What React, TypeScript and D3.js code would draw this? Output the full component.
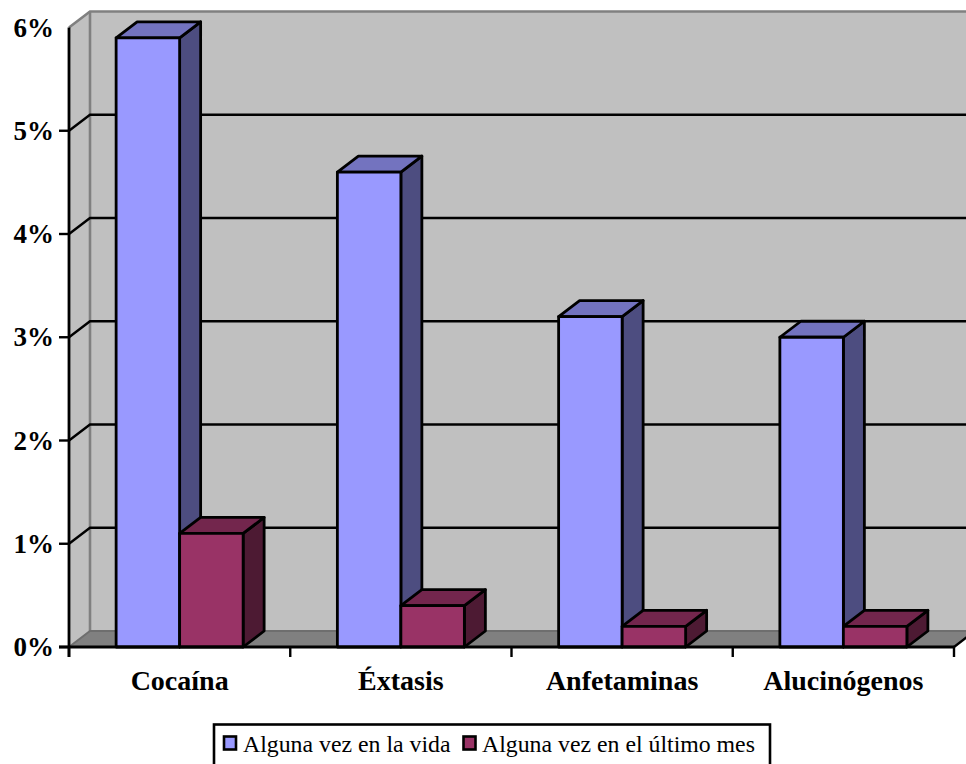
import React from "react";
import * as d3 from "d3";

const categories = ["Cocaína", "Éxtasis", "Anfetaminas", "Alucinógenos"];
const seriesNames = ["Alguna vez en la vida", "Alguna vez en el último mes"];
const lifetimeValues = [5.9, 4.6, 3.2, 3.0];
const lastMonthValues = [1.1, 0.4, 0.2, 0.2];
const yTicks = [0, 1, 2, 3, 4, 5, 6];

const frontColors = ["#9999FF", "#993366"];
const topColors = ["#7373BF", "#73264D"];
const sideColors = ["#4D4D80", "#4D1A33"];

const WIDTH = 966;
const HEIGHT = 764;
const DX = 21;
const DY = -16;
const SERIF = "'Liberation Serif', serif";

const y = d3.scaleLinear().domain([0, 6]).range([647, 27.5]);
const x = d3.scaleBand<string>().domain(categories).range([69, 954]);
const inner = d3
  .scaleBand<number>()
  .domain([0, 1])
  .range([0, x.bandwidth()])
  .paddingOuter(0.742)
  .paddingInner(0);

const poly = (pts: [number, number][]) => pts.map((p) => p.join(",")).join(" ");

function Bar({ cat, series, value }: { cat: string; series: number; value: number }) {
  const x0 = (x(cat) as number) + (inner(series) as number);
  const x1 = x0 + inner.bandwidth();
  const yTop = y(value);
  const yBase = y(0);
  const common = { stroke: "#000", strokeWidth: 2.8, strokeLinejoin: "round" as const };
  return (
    <g>
      <polygon
        points={poly([[x1, yTop], [x1 + DX, yTop + DY], [x1 + DX, yBase + DY], [x1, yBase]])}
        fill={sideColors[series]}
        {...common}
      />
      <polygon
        points={poly([[x0, yTop], [x0 + DX, yTop + DY], [x1 + DX, yTop + DY], [x1, yTop]])}
        fill={topColors[series]}
        {...common}
      />
      <rect x={x0} y={yTop} width={x1 - x0} height={yBase - yTop} fill={frontColors[series]} {...common} />
    </g>
  );
}

export default function App() {
  const [xL, xR] = x.range();
  const y0 = y(0);
  const y6 = y(6);
  const boundaries = [...categories.map((c) => x(c) as number), xR];
  return (
    <svg
      width={WIDTH}
      height={HEIGHT}
      viewBox={`0 0 ${WIDTH} ${HEIGHT}`}
      style={{ position: "absolute", left: 0, top: 0, background: "#fff" }}
    >
      {/* Walls and floor */}
      <polygon
        points={poly([[xL, y0], [xL, y6], [xL + DX, y6 + DY], [xR + DX, y6 + DY], [xR + DX, y0 + DY], [xL + DX, y0 + DY]])}
        fill="#C0C0C0"
      />
      <polygon
        points={poly([[xL, y0], [xL + DX, y0 + DY], [xR + DX, y0 + DY], [xR, y0]])}
        fill="#808080"
      />
      <polyline
        points={poly([[xL, y6], [xL + DX, y6 + DY], [xR + DX, y6 + DY]])}
        fill="none"
        stroke="#808080"
        strokeWidth={2.6}
      />
      <line x1={xL + DX} x2={xL + DX} y1={y6 + DY} y2={y0 + DY} stroke="#808080" strokeWidth={2.6} />
      <polyline
        points={poly([[xL, y0], [xL + DX, y0 + DY], [xR + DX, y0 + DY]])}
        fill="none"
        stroke="#6E6E6E"
        strokeWidth={2}
      />

      {/* Gridlines wrapping from the side wall onto the back wall */}
      {yTicks
        .filter((t) => t > 0 && t < 6)
        .map((t) => (
          <polyline
            key={t}
            points={poly([[xL, y(t)], [xL + DX, y(t) + DY], [xR + DX, y(t) + DY]])}
            fill="none"
            stroke="#000"
            strokeWidth={2.4}
          />
        ))}

      {categories.map((c, i) => (
        <g key={c}>
          <Bar cat={c} series={0} value={lifetimeValues[i]} />
          <Bar cat={c} series={1} value={lastMonthValues[i]} />
        </g>
      ))}

      {/* Axes */}
      <line x1={xL} x2={xL} y1={y6} y2={y0 + 10} stroke="#000" strokeWidth={2.8} />
      <line x1={xL - 10} x2={xR} y1={y0} y2={y0} stroke="#000" strokeWidth={2.8} />
      <line x1={xR} y1={y0} x2={xR + DX} y2={y0 + DY} stroke="#000" strokeWidth={2.4} />
      {yTicks
        .filter((t) => t < 6)
        .map((t) => (
          <line key={t} x1={xL - 10} x2={xL} y1={y(t)} y2={y(t)} stroke="#000" strokeWidth={2.4} />
        ))}
      {boundaries.map((b) => (
        <line key={b} x1={b} x2={b} y1={y0} y2={y0 + 10} stroke="#000" strokeWidth={2.4} />
      ))}

      {yTicks.map((t) => (
        <text
          key={t}
          x={54}
          y={y(t) + 9}
          textAnchor="end"
          fontFamily={SERIF}
          fontWeight="bold"
          fontSize={27}
          fill="#000"
        >
          {`${t}%`}
        </text>
      ))}
      {categories.map((c) => (
        <text
          key={c}
          x={(x(c) as number) + x.bandwidth() / 2}
          y={690}
          textAnchor="middle"
          fontFamily={SERIF}
          fontWeight="bold"
          fontSize={28}
          fill="#000"
        >
          {c}
        </text>
      ))}

      {/* Legend; its lower edge falls just past the bottom of the canvas */}
      <rect x={214} y={724.5} width={556} height={44} fill="#fff" stroke="#000" strokeWidth={2.6} />
      <rect x={224} y={736.5} width={12} height={13} fill={frontColors[0]} stroke="#000" strokeWidth={2.6} />
      <text x={243} y={752} fontFamily={SERIF} fontSize={23.8} fill="#000">
        {seriesNames[0]}
      </text>
      <rect x={463.5} y={736.5} width={12} height={13} fill={frontColors[1]} stroke="#000" strokeWidth={2.6} />
      <text x={482} y={752} fontFamily={SERIF} fontSize={23.8} fill="#000">
        {seriesNames[1]}
      </text>
    </svg>
  );
}
